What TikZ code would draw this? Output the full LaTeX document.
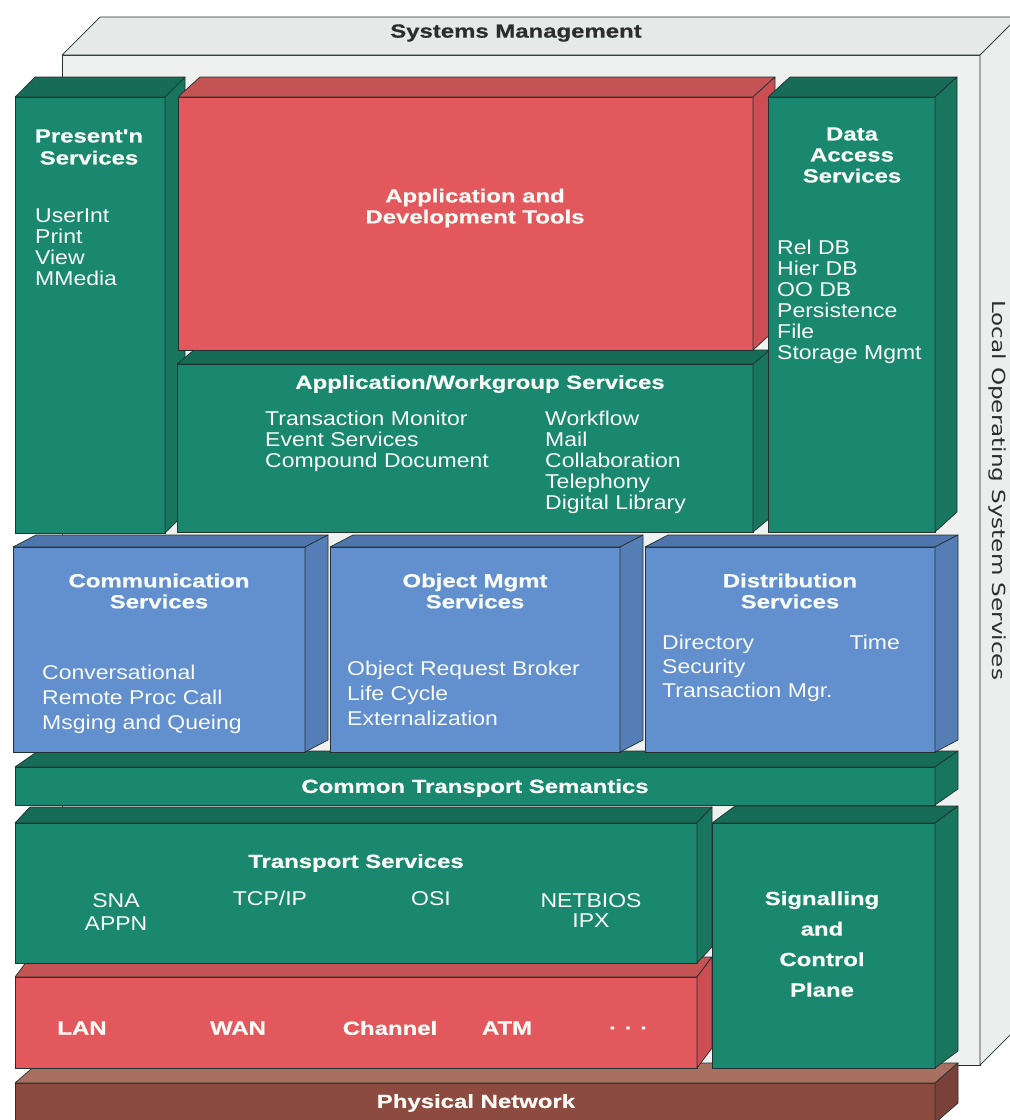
\documentclass[tikz,border=0pt]{standalone}
\usepackage{fontspec}
\setmainfont{Liberation Sans}
\newfontfamily\itemfont{Liberation Sans}[FakeStretch=1.15]
\newfontfamily\titlefont{Liberation Sans}[FakeStretch=1.26,FakeBold=0.6]
\newfontfamily\sidefont{DejaVu Sans}[FakeStretch=1.28]
\definecolor{GF}{RGB}{26,136,110}
\definecolor{GT}{RGB}{22,108,86}
\definecolor{GS}{RGB}{24,118,95}
\definecolor{RF}{RGB}{226,88,92}
\definecolor{RT}{RGB}{196,84,84}
\definecolor{RS}{RGB}{205,78,82}
\definecolor{BF}{RGB}{98,143,206}
\definecolor{BT}{RGB}{78,118,172}
\definecolor{BS}{RGB}{86,126,182}
\definecolor{NF}{RGB}{140,74,64}
\definecolor{NT}{RGB}{168,112,96}
\definecolor{NS}{RGB}{120,66,58}
\definecolor{PF}{RGB}{238,241,239}
\definecolor{PT}{RGB}{229,233,231}
\definecolor{PS}{RGB}{234,238,236}
\definecolor{edgec}{RGB}{35,50,48}
\definecolor{txtc}{RGB}{248,250,246}
\definecolor{darkc}{RGB}{45,45,45}
\tikzset{
  face/.style={draw=edgec, line width=0.7pt, anchor=north west, inner sep=0pt, outer sep=0pt},
  edgeline/.style={draw=edgec, line width=0.7pt, line join=round},
  ttl/.style={text=txtc, font=\titlefont\bfseries\fontsize{19}{#1}\selectfont, align=center, inner sep=0pt},
  ttl/.default=21,
  itm/.style={text=txtc, font=\itemfont\fontsize{20}{#1}\selectfont, align=left, inner sep=0pt, anchor=north west},
  itm/.default=21,
}
% #1 name, #2 x, #3 y, #4 width, #5 height, #6 colour prefix, #7 dx, #8 dy
\newcommand{\blk}[8]{%
  \node[face, fill=#6F, minimum width=#4pt, minimum height=#5pt] (#1) at (#2,#3) {};
  \draw[edgeline, fill=#6T] (#1.north west) -- ++(#7,-#8) -- ++(#4,0) -- (#1.north east) -- cycle;
  \draw[edgeline, fill=#6S] (#1.north east) -- ++(#7,-#8) -- ++(0,#5) -- (#1.south east) -- cycle;
}
\begin{document}
\begin{tikzpicture}[x=1pt,y=-1pt]
\useasboundingbox (0,0) rectangle (1010,1120);
\fill[white] (0,0) rectangle (1010,1120);
\clip (0,0) rectangle (1010,1120);
% back panel
\blk{panel}{62}{55}{918}{1010}{P}{38}{38}
\node[ttl, text=darkc] (sysT) at (516,33) {Systems Management};
\node[text=darkc, font=\sidefont\fontsize{18}{20}\selectfont, rotate=-90, inner sep=0pt] (losT) at (997,490) {Local Operating System Services};
% bottom layers
\blk{phys}{15}{1083}{920}{40}{N}{23}{20}
\blk{lan}{15}{977}{682}{91}{R}{15}{20}
\blk{trans}{15}{823}{682}{140}{G}{15}{16}
\blk{sig}{712}{823}{223}{245}{G}{23}{17}
\blk{cts}{15}{767}{920}{38}{G}{23}{16}
% blue row
\blk{comm}{13}{547}{292}{205}{B}{23}{12}
\blk{obj}{330}{547}{290}{205}{B}{23}{12}
\blk{dist}{645}{547}{290}{205}{B}{23}{12}
% top row
\blk{pres}{15}{97}{150}{436}{G}{20}{20}
\blk{app}{177}{364}{576}{168}{G}{17}{14}
\blk{red}{178}{97}{575}{253}{R}{22}{20}
\blk{data}{768}{97}{167}{435}{G}{22}{20}
% texts
\node[ttl=22] (presT) at (89,147) {Present'n\\Services};
\node[itm] (presI) at (35,209) {UserInt\\Print\\View\\MMedia};
\node[ttl] (dataT) at (852,155) {Data\\Access\\Services};
\node[itm] (dataI) at (777,240) {Rel DB\\Hier DB\\OO DB\\Persistence\\File\\Storage Mgmt};
\node[ttl] (redT) at (475,208) {Application and\\Development Tools};
\node[ttl] (appT) at (480,384) {Application/Workgroup Services};
\node[itm] (appL) at (265,411) {Transaction Monitor\\Event Services\\Compound Document};
\node[itm] (appR) at (545,411) {Workflow\\Mail\\Collaboration\\Telephony\\Digital Library};
\node[ttl] (commT) at (159,591) {Communication\\Services};
\node[itm=25] (commI) at (42,665) {Conversational\\Remote Proc Call\\Msging and Queing};
\node[ttl] (objT) at (475,591) {Object Mgmt\\Services};
\node[itm=25] (objI) at (347,661) {Object Request Broker\\Life Cycle\\Externalization};
\node[ttl] (distT) at (790,591) {Distribution\\Services};
\node[itm=24] (distI) at (662,635) {Directory\\Security\\Transaction Mgr.};
\node[itm, anchor=north east] (distTime) at (900,635) {Time};
\node[ttl] (ctsT) at (475,788) {Common Transport Semantics};
\node[ttl] (transT) at (356,863) {Transport Services};
\node[itm=23, anchor=north, align=center] (sna) at (116,893) {SNA\\APPN};
\node[itm, anchor=north] (tcp) at (270,891) {TCP/IP};
\node[itm, anchor=north] (osi) at (431,891) {OSI};
\node[itm=20, anchor=north, align=center] (netb) at (591,893) {NETBIOS\\IPX};
\node[ttl=30.5] (sigT) at (822,944) {Signalling\\and\\Control\\Plane};
\node[ttl] (lanA) at (82,1028) {LAN};
\node[ttl] (lanB) at (238,1028) {WAN};
\node[ttl] (lanC) at (390,1028) {Channel};
\node[ttl] (lanD) at (507,1028) {ATM};
\node[ttl] (lanE) at (628,1028) {. . .};
\node[ttl] (physT) at (476,1103) {Physical Network};
\end{tikzpicture}
\end{document}
